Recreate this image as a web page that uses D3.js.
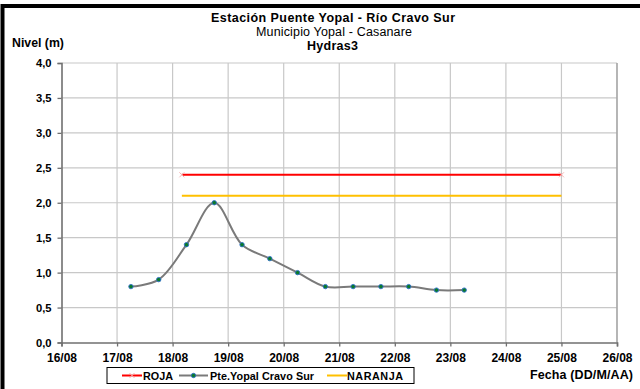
<!DOCTYPE html>
<html>
<head>
<meta charset="utf-8">
<script src="https://cdn.jsdelivr.net/npm/d3@7"></script>
<style>
  html, body { margin: 0; padding: 0; background: #fff; }
  svg { display: block; font-family: "Liberation Sans", Arial, sans-serif; }
</style>
</head>
<body>
<svg id="chart" width="640" height="389"></svg>
<script>
// ---- Data ----
const dates = [
  "2023-08-17T06:00", "2023-08-17T18:00", "2023-08-18T06:00", "2023-08-18T18:00",
  "2023-08-19T06:00", "2023-08-19T18:00", "2023-08-20T06:00", "2023-08-20T18:00",
  "2023-08-21T06:00", "2023-08-21T18:00", "2023-08-22T06:00", "2023-08-22T18:00",
  "2023-08-23T06:00"
];
const levels = [0.8, 0.9, 1.4, 2.0, 1.4, 1.2, 1.0, 0.8, 0.8, 0.8, 0.8, 0.75, 0.75];
const thresholdDates = ["2023-08-18T04:00", "2023-08-25T00:00"];
const rojaLevel = 2.4;
const naranjaLevel = 2.1;
const xDomain = ["2023-08-16T00:00", "2023-08-26T00:00"];
const yTicks = [0, 0.5, 1, 1.5, 2, 2.5, 3, 3.5, 4];
const titleLines = ["Estación Puente Yopal - Río Cravo Sur", "Municipio Yopal - Casanare", "Hydras3"];
const seriesNames = ["ROJA", "Pte.Yopal Cravo Sur", "NARANJA"];

// ---- Setup ----
const parse = d3.utcParse("%Y-%m-%dT%H:%M");
const svg = d3.select("#chart");
const pLeft = 61.5, pRight = 617, pTop = 63, pBottom = 342.5;

const x = d3.scaleUtc().domain(xDomain.map(parse)).range([pLeft, pRight]);
const y = d3.scaleLinear().domain([0, 4]).range([pBottom, pTop]);
const fmtY = d => d3.format(".1f")(d).replace(".", ",");
const fmtX = d3.utcFormat("%d/%m");
const dayTicks = d3.utcDay.range(parse(xDomain[0]), d3.utcDay.offset(parse(xDomain[1]), 1));

// outer frame
svg.append("rect").attr("x", 2.5).attr("y", 6).attr("width", 700).attr("height", 500)
  .attr("fill", "none").attr("stroke", "#000").attr("stroke-width", 4);

// grid
const grid = svg.append("g");
grid.selectAll("line.h").data(yTicks.filter(d => d > 0)).join("line")
  .attr("x1", pLeft).attr("x2", pRight)
  .attr("y1", d => y(d)).attr("y2", d => y(d))
  .attr("stroke", "#c8c8c8").attr("stroke-width", 1.2);
grid.selectAll("line.v").data(dayTicks.slice(1)).join("line")
  .attr("x1", d => x(d)).attr("x2", d => x(d))
  .attr("y1", pTop).attr("y2", pBottom)
  .attr("stroke", "#c8c8c8").attr("stroke-width", 1.2);
// plot area right border
svg.append("line").attr("x1", pRight).attr("x2", pRight).attr("y1", pTop).attr("y2", pBottom)
  .attr("stroke", "#9a9a9a").attr("stroke-width", 1.2);

// axes
const yAxis = svg.append("g").attr("transform", `translate(${pLeft},0)`)
  .call(d3.axisLeft(y).tickValues(yTicks).tickFormat(fmtY).tickSize(4).tickPadding(6));
const xAxis = svg.append("g").attr("transform", `translate(0,${pBottom})`)
  .call(d3.axisBottom(x).tickValues(dayTicks).tickFormat(fmtX).tickSize(4).tickPadding(6));
[yAxis, xAxis].forEach(g => {
  g.select(".domain").attr("stroke", "#707070").attr("stroke-width", 1.6);
  g.selectAll(".tick line").attr("stroke", "#707070").attr("stroke-width", 1.3);
  g.selectAll("text").attr("fill", "#000").attr("font-weight", "bold")
    .attr("font-family", "Liberation Sans, Arial, sans-serif");
});
yAxis.selectAll("text").attr("font-size", 11.2);
xAxis.selectAll("text").attr("font-size", 12).attr("dy", "0.75em");

// threshold lines
const thr = [
  { name: "ROJA", level: rojaLevel, color: "#ff0000" },
  { name: "NARANJA", level: naranjaLevel, color: "#ffc000" }
];
thr.forEach(t => {
  svg.append("path")
    .datum(thresholdDates.map(d => ({ date: parse(d), v: t.level })))
    .attr("fill", "none").attr("stroke", t.color).attr("stroke-width", 2)
    .attr("d", d3.line().x(d => x(d.date)).y(d => y(d.v)));
});
// faint x markers at red line endpoints
const xMark = (cx, cy) => `M${cx - 2.5},${cy - 2.5}L${cx + 2.5},${cy + 2.5}M${cx - 2.5},${cy + 2.5}L${cx + 2.5},${cy - 2.5}`;
thresholdDates.forEach(d => {
  svg.append("path").attr("d", xMark(x(parse(d)), y(rojaLevel)))
    .attr("stroke", "#f4b4b4").attr("stroke-width", 1).attr("fill", "none");
});

// series
const series = dates.map((d, i) => ({ date: parse(d), v: levels[i] }));
svg.append("path").datum(series)
  .attr("fill", "none").attr("stroke", "#7a7a7a").attr("stroke-width", 2)
  .attr("d", d3.line().x(d => x(d.date)).y(d => y(d.v)).curve(d3.curveCatmullRom.alpha(0.5)));
svg.selectAll("circle.pt").data(series).join("circle")
  .attr("cx", d => x(d.date)).attr("cy", d => y(d.v)).attr("r", 2.2)
  .attr("fill", "#0a7a2a").attr("stroke", "#3070c8").attr("stroke-width", 0.9);

// titles
const tt = svg.append("g").attr("text-anchor", "middle").attr("fill", "#000");
tt.append("text").attr("x", 333).attr("y", 22).attr("font-size", 12.5).attr("font-weight", "bold")
  .attr("textLength", 244).attr("lengthAdjust", "spacing").text(titleLines[0]);
tt.append("text").attr("x", 334).attr("y", 36).attr("font-size", 12.5)
  .attr("textLength", 156).attr("lengthAdjust", "spacing").text(titleLines[1]);
tt.append("text").attr("x", 332.5).attr("y", 49.5).attr("font-size", 12.5).attr("font-weight", "bold")
  .attr("textLength", 51).attr("lengthAdjust", "spacing").text(titleLines[2]);

svg.append("text").attr("x", 12).attr("y", 47).attr("font-size", 12.3).attr("font-weight", "bold").text("Nivel (m)");
svg.append("text").attr("x", 633).attr("y", 378.5).attr("text-anchor", "end")
  .attr("font-size", 12.5).attr("font-weight", "bold")
  .attr("textLength", 103).attr("lengthAdjust", "spacing").text("Fecha (DD/M/AA)");

// legend
const lg = svg.append("g");
lg.append("rect").attr("x", 107).attr("y", 367.5).attr("width", 307).attr("height", 16)
  .attr("fill", "#fff").attr("stroke", "#000").attr("stroke-width", 1);
const ly = 375.5;
const legendItems = [
  { name: seriesNames[0], x1: 122, x2: 142, color: "#ff0000", tx: 143, w: 30 },
  { name: seriesNames[1], x1: 179, x2: 208, color: "#7a7a7a", tx: 210, w: 104, marker: true },
  { name: seriesNames[2], x1: 327, x2: 347, color: "#ffc000", tx: 347, w: 56 }
];
legendItems.forEach((it, i) => {
  lg.append("line").attr("x1", it.x1).attr("x2", it.x2).attr("y1", ly).attr("y2", ly)
    .attr("stroke", it.color).attr("stroke-width", 2);
  if (i === 0) lg.append("path").attr("d", xMark((it.x1 + it.x2) / 2, ly))
    .attr("stroke", "#f4b4b4").attr("stroke-width", 1);
  if (it.marker) lg.append("circle").attr("cx", (it.x1 + it.x2) / 2).attr("cy", ly).attr("r", 2.2)
    .attr("fill", "#0a7a2a").attr("stroke", "#3070c8").attr("stroke-width", 0.9);
  lg.append("text").attr("x", it.tx).attr("y", ly + 4).attr("font-size", 10.8)
    .attr("font-weight", "bold").attr("textLength", it.w).attr("lengthAdjust", "spacing").text(it.name);
});
</script>
</body>
</html>
